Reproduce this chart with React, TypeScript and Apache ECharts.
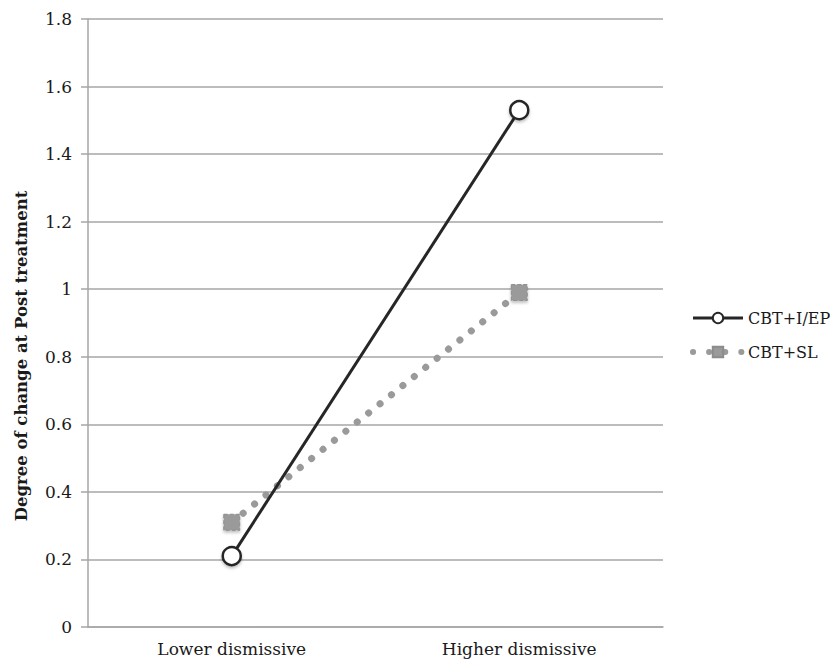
import React, { useEffect, useRef } from "react";
import * as echarts from "echarts";

const categories = ["Lower dismissive", "Higher dismissive"];
const seriesNames = ["CBT+I/EP", "CBT+SL"];
const cbtIEP = [0.21, 1.53];
const cbtSL = [0.31, 0.99];
const yTitle = "Degree of change at Post treatment";

const FONT = "DejaVu Serif";

export default function App() {
  const ref = useRef<HTMLDivElement>(null);
  useEffect(() => {
    if (!ref.current) return;
    document.body.style.margin = "0";
    document.body.style.overflow = "hidden";
    const chart = echarts.init(ref.current, null, { renderer: "svg" });
    chart.setOption({
      animation: false,
      backgroundColor: "#ffffff",
      grid: { left: 88, right: 172, top: 19, bottom: 38 },
      xAxis: {
        type: "category",
        data: categories,
        boundaryGap: true,
        axisLine: { lineStyle: { color: "#a6a6a6", width: 1.5 } },
        axisTick: { show: false },
        axisLabel: { fontFamily: FONT, fontSize: 17, color: "#1a1a1a", margin: 13 },
        splitLine: { show: false },
      },
      yAxis: {
        type: "value",
        min: 0,
        max: 1.8,
        interval: 0.2,
        axisLine: { show: true, lineStyle: { color: "#a6a6a6", width: 1.5 } },
        axisTick: { show: true, length: 7, lineStyle: { color: "#a6a6a6", width: 1.5 } },
        axisLabel: { fontFamily: FONT, fontSize: 17, color: "#1a1a1a", margin: 16 },
        splitLine: { lineStyle: { color: "#a6a6a6", width: 1.5 } },
      },
      legend: {
        orient: "vertical",
        left: 685,
        top: 305,
        itemGap: 18,
        itemWidth: 50,
        itemHeight: 13,
        textStyle: { fontFamily: FONT, fontSize: 16, color: "#1a1a1a" },
        data: [
          { name: seriesNames[0], lineStyle: { width: 3, color: "#262626" } },
          {
            name: seriesNames[1],
            lineStyle: { width: 6, color: "#9a9a9a", type: [0.1, 16], cap: "round" },
          },
        ],
      },
      graphic: [
        {
          type: "text",
          x: 21,
          y: 356,
          rotation: Math.PI / 2,
          style: {
            text: yTitle,
            fontFamily: FONT,
            fontWeight: "bold",
            fontSize: 16.5,
            fill: "#1a1a1a",
            textAlign: "center",
            textVerticalAlign: "middle",
          },
        },
      ],
      series: [
        {
          name: seriesNames[1],
          type: "line",
          data: cbtSL,
          symbol: "rect",
          symbolSize: 16,
          z: 2,
          lineStyle: { color: "#9a9a9a", width: 7, type: [0.1, 14.5], cap: "round" },
          itemStyle: {
            color: "#9a9a9a",
            borderColor: "#8c8c8c",
            borderWidth: 1,
            borderType: "dashed",
            shadowColor: "rgba(0,0,0,0.25)",
            shadowBlur: 3,
            shadowOffsetY: 2,
          },
        },
        {
          name: seriesNames[0],
          type: "line",
          data: cbtIEP,
          symbol: "circle",
          symbolSize: 18,
          z: 3,
          lineStyle: { color: "#262626", width: 3 },
          itemStyle: {
            color: "#ffffff",
            borderColor: "#262626",
            borderWidth: 2.5,
            shadowColor: "rgba(0,0,0,0.25)",
            shadowBlur: 3,
            shadowOffsetY: 2,
          },
        },
      ],
    });
    return () => chart.dispose();
  }, []);
  return (
    <div
      ref={ref}
      style={{ position: "absolute", left: 0, top: 0, width: 835, height: 665 }}
    />
  );
}
